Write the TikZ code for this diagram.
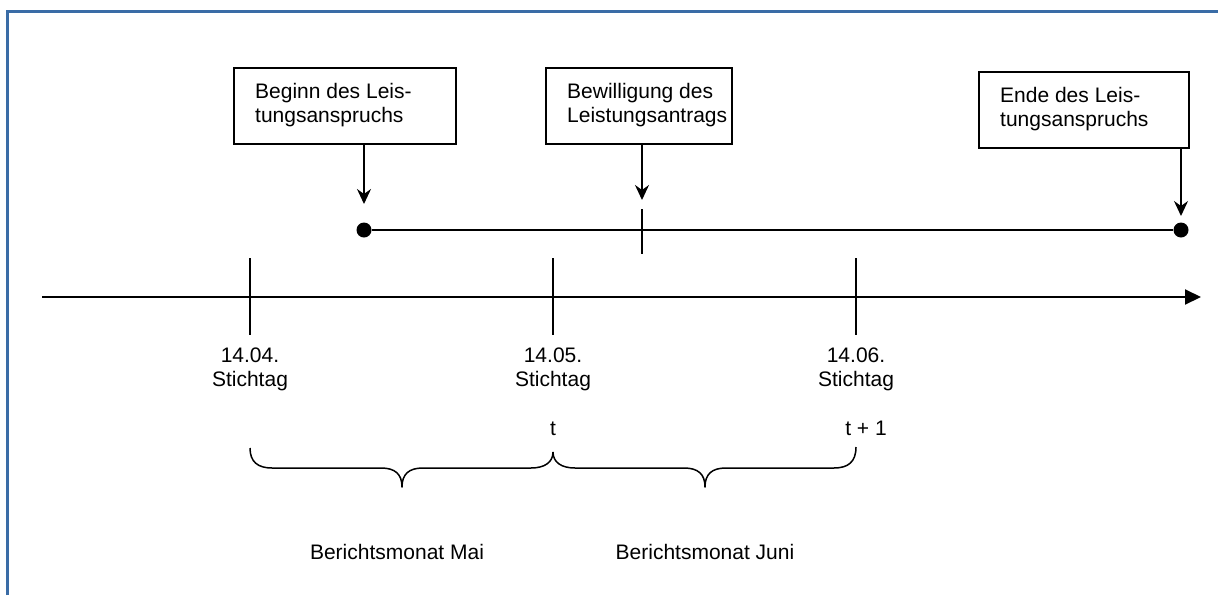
\documentclass[tikz,border=0pt]{standalone}
\usepackage{fontspec}
\setmainfont{Liberation Sans}
\usetikzlibrary{arrows.meta}
\definecolor{frameblue}{RGB}{58,108,166}
\begin{document}
\begin{tikzpicture}[x=1pt,y=-1pt,
  txt/.style={font=\fontsize{21}{24}\selectfont, inner sep=0pt},
  boxtxt/.style={txt, align=left, anchor=west},
  lbl/.style={txt, align=center, anchor=north},
  box/.style={draw, line width=1.8pt, rectangle, inner sep=0pt, anchor=north west},
  tickline/.style={line width=1.5pt},
  dot/.style={circle, fill, inner sep=0pt, minimum size=15pt},
  darr/.style={line width=1.8pt, -{Stealth[length=15pt,width=14pt,inset=5pt]}},
  axis/.style={line width=2pt, -{Triangle[length=16pt,width=15pt]}},
  bracestyle/.style={line width=1.5pt, line join=round}
]
\useasboundingbox (0,0) rectangle (1218,595);
% frame
\draw[frameblue, line width=3pt] (7,595) -- (7,11) -- (1218,11);

% boxes
\node[box, minimum width=222pt, minimum height=76pt] (b1) at (233,67) {};
\node[boxtxt] (b1t) at (255,105) {Beginn des Leis-\\tungsanspruchs};
\node[box, minimum width=186pt, minimum height=76pt] (b2) at (545,67) {};
\node[boxtxt] (b2t) at (567,105) {Bewilligung des\\Leistungsantrags};
\node[box, minimum width=210pt, minimum height=76pt] (b3) at (978,71) {};
\node[boxtxt] (b3t) at (1000,109) {Ende des Leis-\\tungsanspruchs};

% dots and segment
\node[dot] (d1) at (364,230) {};
\node[dot] (d2) at (1181,230) {};
\draw[line width=2pt] (d1) -- (d2);
\coordinate (s2a) at (642,209);
\coordinate (s2b) at (642,254);
\draw[tickline] (s2a) -- (s2b);

% arrows from boxes
\coordinate (a1) at (364,204);
\coordinate (a2) at (642,200);
\coordinate (a3) at (1181,216);
\draw[darr] (b1.south -| a1) -- (a1);
\draw[darr] (b2.south -| a2) -- (a2);
\draw[darr] (b3.south -| a3) -- (a3);

% main axis
\coordinate (ax0) at (42,297);
\coordinate (ax1) at (1201,297);
\draw[axis] (ax0) -- (ax1);

% ticks
\foreach \x/\n in {250/1, 553/2, 856/3} {
  \coordinate (t\n a) at (\x,258);
  \coordinate (t\n b) at (\x,335);
  \draw[tickline] (t\n a) -- (t\n b);
}

% labels
\node[lbl] (l1) at (250,348) {14.04.\\Stichtag};
\node[lbl] (l2) at (553,348) {14.05.\\Stichtag};
\node[lbl] (l3) at (856,348) {14.06.\\Stichtag};
\node[txt, anchor=base] (tt) at (553,435) {t};
\node[txt, anchor=base] (tt1) at (866,435) {t + 1};

% braces
\draw[bracestyle] (250,448) .. controls (250,462) and (258,468) .. (272,468) -- (381,468)
  .. controls (395,468) and (402,474) .. (402,487)
  .. controls (402,474) and (409,468) .. (423,468) -- (531,468)
  .. controls (545,468) and (553,462) .. (553,452);
\draw[bracestyle] (553,452) .. controls (553,462) and (561,468) .. (575,468) -- (684,468)
  .. controls (698,468) and (705,474) .. (705,487)
  .. controls (705,474) and (712,468) .. (726,468) -- (834,468)
  .. controls (848,468) and (856,462) .. (856,447);

\node[txt, anchor=base] (m1) at (397,559) {Berichtsmonat Mai};
\node[txt, anchor=base] (m2) at (705,559) {Berichtsmonat Juni};
\end{tikzpicture}
\end{document}
